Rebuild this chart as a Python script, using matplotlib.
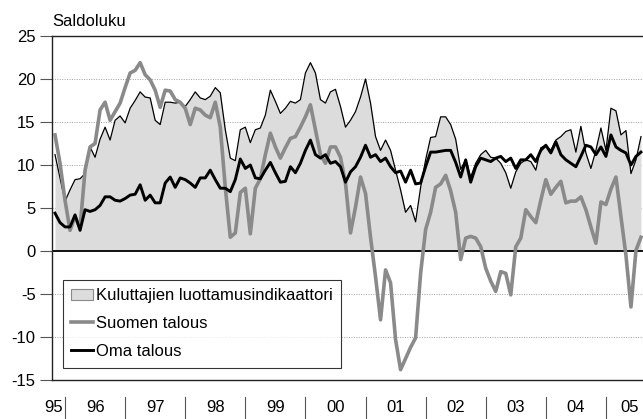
import matplotlib
matplotlib.use("Agg")
import matplotlib.pyplot as plt
from matplotlib.lines import Line2D
from matplotlib.patches import Patch
import numpy as np

# monthly series, Nov 1995 .. Aug 2005
cci = [11.2, 8.5, 5.8, 7.1, 8.3, 8.4, 9.0, 12.1, 10.9, 13.0,
       14.4, 12.9, 15.2, 15.7, 14.9, 16.6, 17.5, 18.5, 17.9, 17.8,
       15.2, 14.7, 17.3, 17.3, 17.2, 17.3, 16.8, 17.6, 18.5, 17.8,
       17.6, 18.0, 19.0, 18.4, 14.1, 10.8, 10.5, 14.1, 14.4, 12.6,
       14.1, 14.3, 15.8, 18.7, 17.4, 16.0, 16.6, 17.4, 17.2, 17.6,
       20.7, 21.9, 20.7, 17.6, 17.2, 18.5, 18.8, 16.8, 14.4, 15.2,
       16.2, 17.9, 20.0, 17.2, 13.3, 11.7, 12.9, 11.7, 9.4, 7.1,
       4.5, 5.3, 3.4, 7.4, 10.6, 13.2, 13.3, 15.6, 15.6, 14.7,
       13.0, 9.5, 10.6, 8.6, 10.2, 11.2, 11.7, 10.9, 10.8, 10.2,
       9.1, 7.3, 9.2, 10.2, 10.6, 10.4, 9.4, 12.0, 12.3, 11.7,
       12.9, 13.3, 13.9, 14.1, 11.5, 14.5, 11.4, 9.6, 11.7, 14.3,
       11.7, 16.6, 16.3, 13.5, 14.0, 9.0, 10.6, 13.3]

suomen = [13.5, 10.2, 5.9, 2.4, 4.0, 2.7, 9.4, 12.1, 12.5, 16.4,
          17.3, 15.2, 16.2, 17.2, 19.0, 20.7, 21.0, 21.9, 20.5, 19.9,
          18.7, 16.7, 18.7, 18.6, 17.6, 17.3, 16.6, 14.7, 16.6, 16.4,
          15.8, 15.5, 17.3, 14.4, 7.4, 1.6, 2.1, 6.8, 7.3, 2.0,
          7.3, 8.4, 11.2, 13.7, 12.1, 10.8, 12.0, 13.1, 13.3, 14.4,
          15.6, 17.0, 14.1, 11.2, 10.2, 12.1, 12.1, 10.9, 7.9, 2.1,
          5.1, 8.6, 6.7, 1.6, -3.0, -8.0, -2.2, -3.7, -10.3, -13.8,
          -12.5, -11.2, -10.1, -2.6, 2.5, 4.5, 7.4, 7.8, 8.8, 7.0,
          4.5, -1.0, 1.5, 1.7, 1.5, 0.5, -2.0, -3.5, -4.7, -2.4,
          -2.6, -5.1, 0.5, 1.5, 4.8, 4.0, 3.3, 5.9, 8.3, 6.6,
          7.4, 8.1, 5.6, 5.8, 5.8, 6.3, 4.8, 2.8, 0.9, 5.7,
          5.4, 7.2, 8.6, 4.0, -0.5, -6.5, 0.1, 1.6]

oma = [4.4, 3.3, 2.8, 2.8, 4.2, 2.4, 4.8, 4.6, 4.8, 5.3,
       6.3, 6.3, 5.9, 5.8, 6.1, 6.5, 6.6, 7.7, 5.9, 6.5,
       5.6, 5.6, 7.9, 8.6, 7.4, 8.5, 8.3, 7.9, 7.4, 8.5,
       8.5, 9.4, 8.3, 7.3, 7.3, 6.9, 8.3, 10.7, 9.6, 10.0,
       8.5, 8.4, 9.4, 10.3, 9.1, 8.0, 8.1, 9.8, 9.1, 10.2,
       11.7, 12.9, 11.2, 10.8, 11.2, 10.2, 10.4, 9.8, 8.0, 9.2,
       9.8, 10.9, 12.3, 10.9, 11.2, 10.4, 10.8, 9.8, 9.1, 9.3,
       8.0, 9.4, 7.8, 7.9, 9.8, 11.5, 11.5, 11.6, 11.7, 11.7,
       10.3, 8.6, 10.6, 8.0, 9.8, 10.8, 10.6, 10.4, 10.8, 11.0,
       10.4, 10.8, 9.6, 10.6, 10.6, 11.2, 10.4, 11.7, 12.3, 11.4,
       12.7, 11.2, 10.6, 10.2, 9.8, 11.0, 12.3, 12.1, 11.2, 12.1,
       11.0, 13.5, 12.1, 11.7, 11.4, 10.0, 11.0, 11.5]

year_labels = ["95", "96", "97", "98", "99", "00", "01", "02", "03", "04", "05"]
legend_labels = ["Kuluttajien luottamusindikaattori", "Suomen talous", "Oma talous"]

plt.rcParams["font.family"] = ["Liberation Sans", "DejaVu Sans"]

t = 1995 + (10 + np.arange(len(cci))) / 12.0

fig = plt.figure(figsize=(6.43, 4.19), dpi=100)
ax = fig.add_axes([52.4 / 643, 39 / 419, 590.6 / 643, 344 / 419])

ax.fill_between(t, cci, 0, color="#dcdcdc", lw=0, zorder=1)
ax.plot(t, cci, color="black", lw=0.9, zorder=3)
ax.plot(t, suomen, color="#8a8a8a", lw=2.6, zorder=4)
ax.plot(t, oma, color="black", lw=2.1, zorder=5)

for v in [-10, -5, 5, 10, 15, 20]:
    ax.axhline(v, color="#a0a0a0", lw=0.7, ls=(0, (1, 1.5)), zorder=0.5)
ax.axhline(0, color="black", lw=1.3, zorder=2)

ax.set_xlim(1995.79, 1995.79 + 590.6 / 60.1)
ax.set_ylim(-15, 25)
ax.set_yticks(range(-15, 30, 5))
ax.set_yticklabels([str(v) for v in range(-15, 30, 5)], fontsize=12)
ax.tick_params(axis="y", direction="out", length=9, width=0.8, color="#555555", pad=3)
ax.set_xticks([])
ax.spines["right"].set_visible(False)
for s in ["left", "top", "bottom"]:
    ax.spines[s].set_linewidth(1.0)
    ax.spines[s].set_color("#222222")

# year separators and labels below the axis
xt = ax.get_xaxis_transform()
for yr in range(1996, 2006):
    ax.plot([yr, yr], [-0.05, -0.12], transform=xt, clip_on=False,
            color="#555555", lw=0.8)
ax.text(1995.97, -0.081, year_labels[0], transform=xt, ha="right", va="center", fontsize=12)
for i, lab in enumerate(year_labels[1:]):
    xc = 1996.5 + i if i < 9 else 2005.4
    ax.text(xc, -0.081, lab, transform=xt, ha="center", va="center", fontsize=12)

fig.text(52 / 643, 1 - 21 / 419, "Saldoluku", ha="left", va="center", fontsize=12)

handles = [Patch(facecolor="#dcdcdc", edgecolor="#8a8a8a", lw=0.8),
           Line2D([], [], color="#8a8a8a", lw=2.6),
           Line2D([], [], color="black", lw=2.1)]
leg = ax.legend(handles, legend_labels, loc="lower left",
                bbox_to_anchor=(0.0174, 0.036), borderaxespad=0,
                fontsize=12, frameon=True, fancybox=False,
                handlelength=1.3, handletextpad=0.2, labelspacing=0.78,
                borderpad=0.5)
leg.get_frame().set_edgecolor("black")
leg.get_frame().set_linewidth(0.8)

fig.savefig("out.png", dpi=100)
